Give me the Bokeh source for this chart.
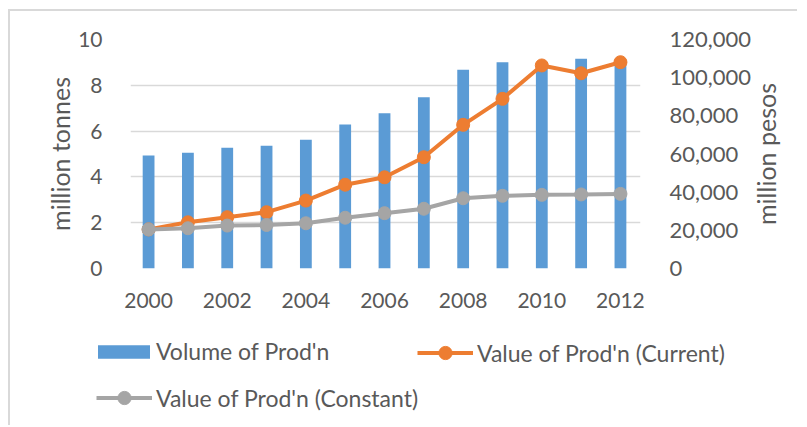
import math
from bokeh.plotting import figure
from bokeh.models import (Range1d, LinearAxis, FixedTicker, Legend, LegendItem, Label,
                          NumeralTickFormatter, ColumnDataSource)
from bokeh.embed import file_html
from bokeh.resources import INLINE

years = [2000, 2001, 2002, 2003, 2004, 2005, 2006, 2007, 2008, 2009, 2010, 2011, 2012]
volume = [4.93, 5.05, 5.27, 5.36, 5.62, 6.29, 6.78, 7.48, 8.68, 9.01, 8.90, 9.16, 9.05]
value_current = [20500, 24200, 26900, 29500, 35600, 43900, 47800, 58300, 75300, 88900, 106400, 102300, 108100]
value_constant = [20500, 21100, 22500, 22800, 23700, 26600, 29000, 31300, 36800, 38100, 38600, 38800, 39100]
x_ticks = [2000, 2002, 2004, 2006, 2008, 2010, 2012]
left_ticks = [0, 2, 4, 6, 8, 10]
right_ticks = [0, 20000, 40000, 60000, 80000, 100000, 120000]
series_names = ["Volume of Prod'n", "Value of Prod'n (Current)", "Value of Prod'n (Constant)"]

FONT = "Lato"
TXT = "#595959"
BLUE = "#5B9BD5"
ORANGE = "#ED7D31"
GREY = "#A5A5A5"

src = ColumnDataSource(dict(year=years, volume=volume, cur=value_current, con=value_constant))

p = figure(width=789, height=307, output_backend="svg", toolbar_location=None,
           x_range=Range1d(1999.54, 2012.51), y_range=Range1d(0, 10),
           min_border_left=120, min_border_right=159, min_border_top=28, min_border_bottom=50)
p.outline_line_color = None
p.extra_y_ranges = {"pesos": Range1d(0, 120000)}
p.styles = {"margin-left": "8px", "margin-top": "9px",
            "border-top": "2px solid #d9d9d9", "border-left": "2px solid #d9d9d9"}

p.vbar(x="year", top="volume", width=0.3, source=src, color=BLUE, line_color=None)
p.line("year", "cur", source=src, y_range_name="pesos", color=ORANGE, line_width=4)
p.scatter("year", "cur", source=src, y_range_name="pesos", color=ORANGE, size=13)
p.line("year", "con", source=src, y_range_name="pesos", color=GREY, line_width=4)
p.scatter("year", "con", source=src, y_range_name="pesos", color=GREY, size=13)

p.xgrid.grid_line_color = None
p.ygrid.grid_line_color = "#d9d9d9"
p.ygrid.grid_line_width = 1.3
p.ygrid.ticker = FixedTicker(ticks=left_ticks)

def style_axis(ax, size="21px"):
    ax.axis_line_color = None
    ax.major_tick_line_color = None
    ax.minor_tick_line_color = None
    ax.major_label_text_font = FONT
    ax.major_label_text_font_size = size
    ax.major_label_text_color = TXT
    ax.axis_label_text_font = FONT
    ax.axis_label_text_font_size = "25px"
    ax.axis_label_text_color = TXT
    ax.axis_label_text_font_style = "normal"

p.xaxis.ticker = FixedTicker(ticks=x_ticks)
p.xaxis.major_label_standoff = 18
style_axis(p.xaxis[0])

p.yaxis.ticker = FixedTicker(ticks=left_ticks)
p.yaxis.axis_label = "million tonnes"
p.yaxis.major_label_standoff = 22
p.yaxis.axis_label_standoff = 0
style_axis(p.yaxis[0])

ra = LinearAxis(y_range_name="pesos",
                ticker=FixedTicker(ticks=right_ticks),
                formatter=NumeralTickFormatter(format="0,0"))
ra.major_label_standoff = 23
style_axis(ra, "22px")
p.add_layout(ra, "right")

# right-hand axis title, reading bottom to top
rlabel = Label(text="million pesos", x=11, y=114.5, x_units="screen", y_units="screen",
               angle=math.pi / 2, text_align="center", text_baseline="middle",
               text_font=FONT, text_font_size="25px", text_color=TXT)
p.add_layout(rlabel, "right")

# legend strip (same data, drawn outside its visible ranges so only the legend shows)
lg = figure(width=789, height=109, output_backend="svg", toolbar_location=None,
            x_range=Range1d(0, 1), y_range=Range1d(0, 1),
            x_axis_type=None, y_axis_type=None, min_border=0)
lg.outline_line_color = None
lg.xgrid.grid_line_color = None
lg.ygrid.grid_line_color = None
lg.styles = {"margin-left": "8px", "border-left": "2px solid #d9d9d9"}
rb = lg.vbar(x="year", top="volume", width=0.3, source=src, color=BLUE, line_color=None)
rl1 = lg.line("year", "cur", source=src, color=ORANGE, line_width=4)
rs1 = lg.scatter("year", "cur", source=src, color=ORANGE, size=13)
rl2 = lg.line("year", "con", source=src, color=GREY, line_width=4)
rs2 = lg.scatter("year", "con", source=src, color=GREY, size=13)

def make_legend(label, renderers, loc, gw, gh, standoff):
    lgd = Legend(items=[LegendItem(label=label, renderers=renderers)], location=loc)
    lgd.label_text_font = FONT
    lgd.label_text_font_size = "23px"
    lgd.label_text_color = TXT
    lgd.label_height = 26
    lgd.glyph_width = gw
    lgd.glyph_height = gh
    lgd.label_standoff = standoff
    lgd.padding = 0
    lgd.margin = 0
    lgd.border_line_color = None
    lgd.background_fill_alpha = 0
    lg.add_layout(lgd, "center")

make_legend(series_names[0], [rb], (81, 60), 65, 17, 0)
make_legend(series_names[1], [rl1, rs1], (407, 56), 56, 33, 4)
make_legend(series_names[2], [rl2, rs2], (86, 11), 56, 33, 4)

open("out.html", "w").write(file_html([p, lg], INLINE))
